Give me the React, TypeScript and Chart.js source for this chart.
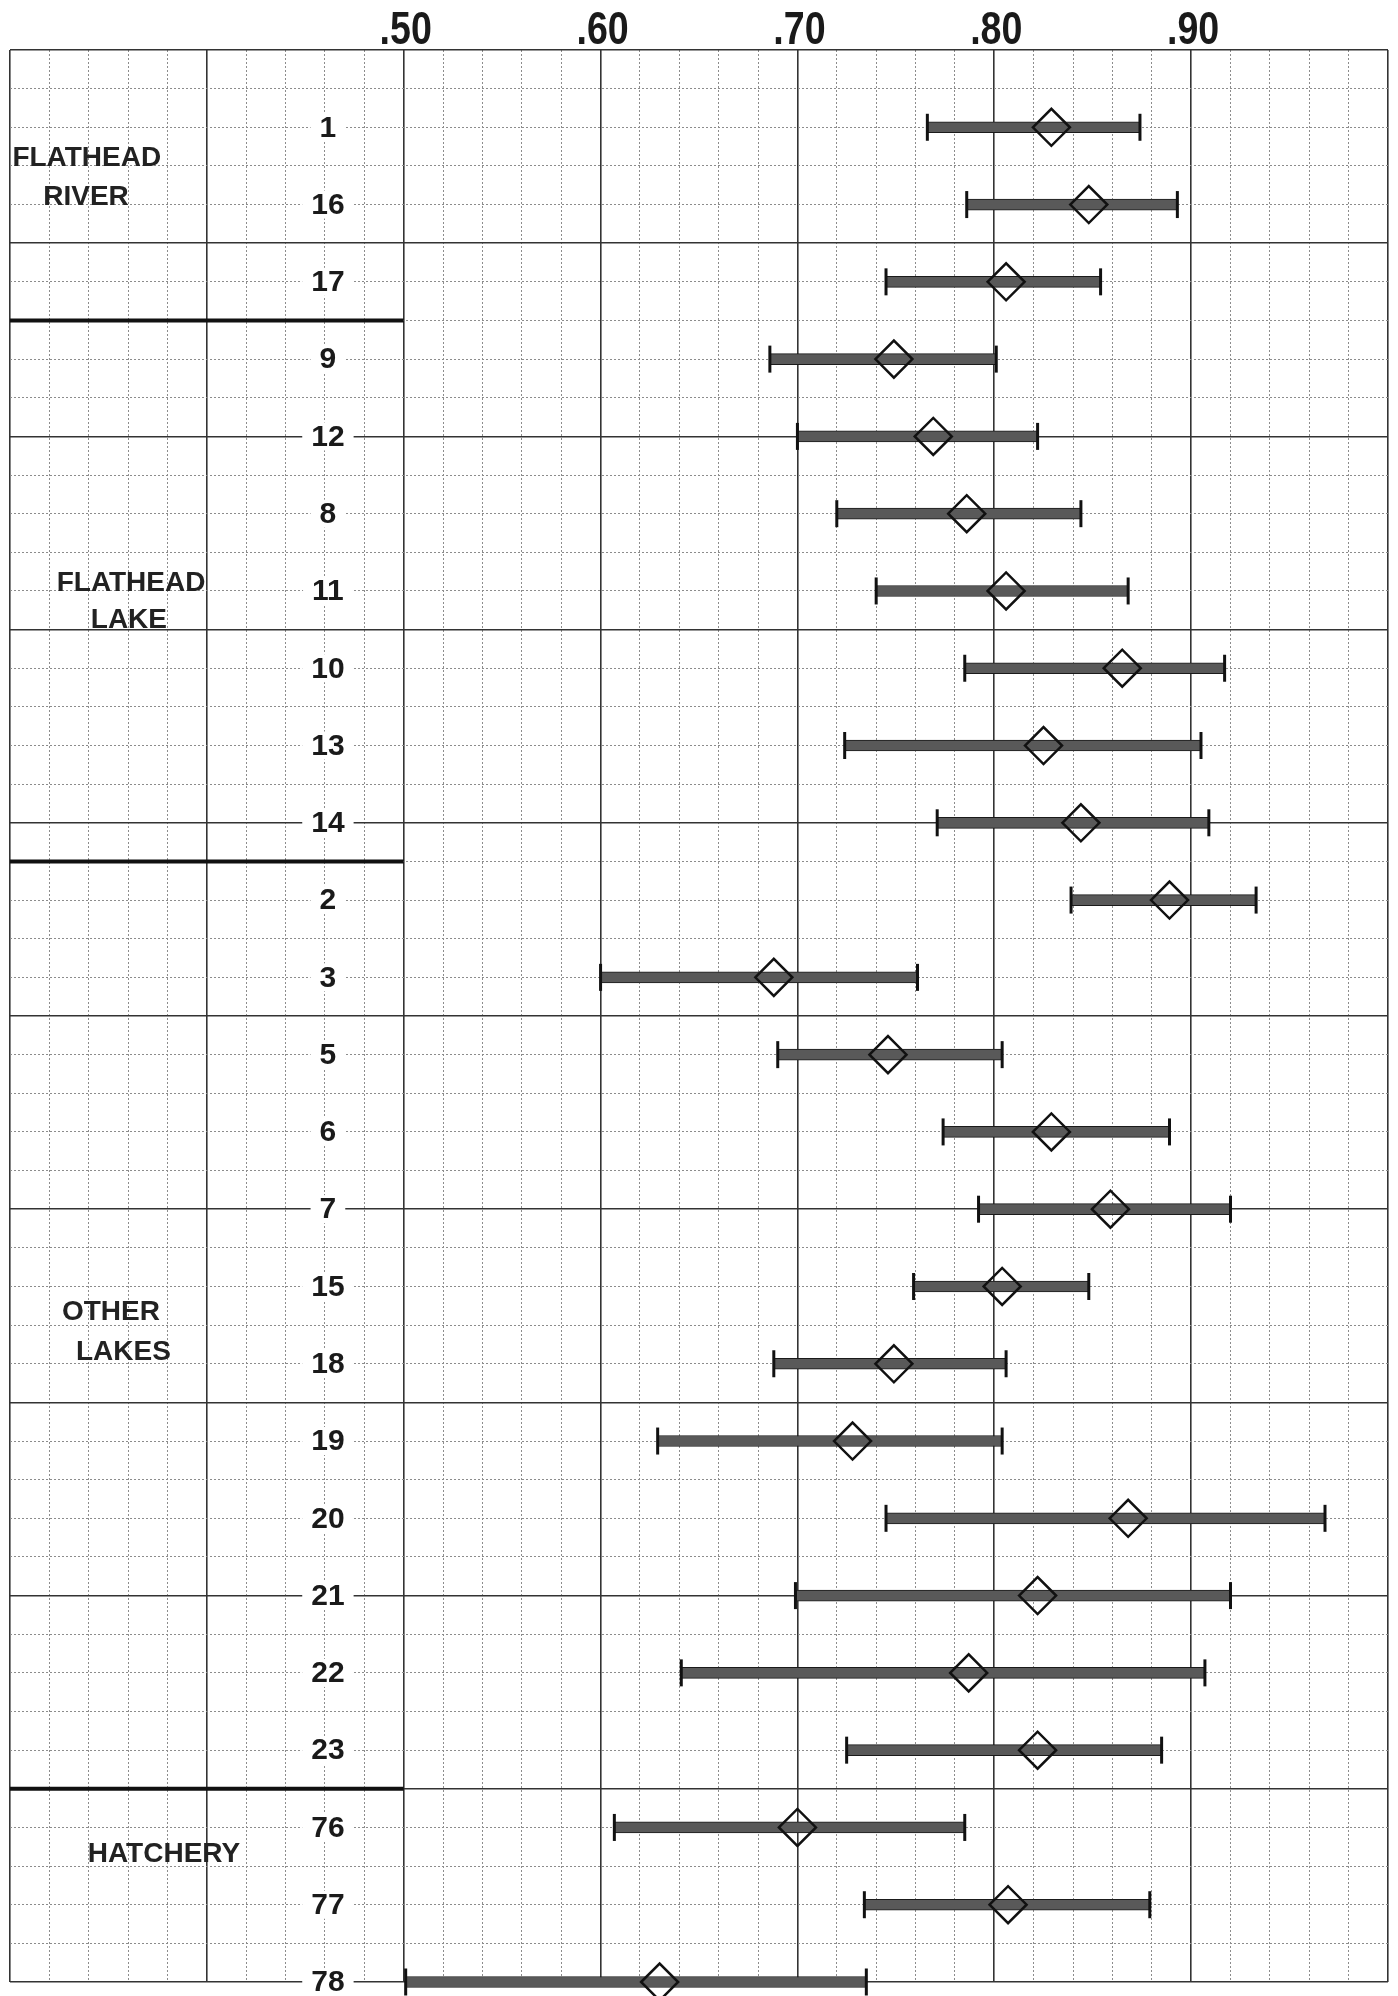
import React, { useEffect, useRef } from 'react';
import { Chart, registerables } from 'chart.js';

Chart.register(...registerables);

// ---- data ----
const rowLabels = ['1', '16', '17', '9', '12', '8', '11', '10', '13', '14', '2', '3', '5', '6', '7', '15', '18', '19', '20', '21', '22', '23', '76', '77', '78'];
const lowValues = [0.766, 0.786, 0.745, 0.686, 0.700, 0.720, 0.740, 0.785, 0.724, 0.771, 0.839, 0.600, 0.690, 0.774, 0.792, 0.759, 0.688, 0.629, 0.745, 0.699, 0.641, 0.725, 0.607, 0.734, 0.501];
const meanValues = [0.829, 0.848, 0.806, 0.749, 0.769, 0.786, 0.806, 0.865, 0.825, 0.844, 0.889, 0.688, 0.746, 0.829, 0.859, 0.804, 0.749, 0.728, 0.868, 0.822, 0.787, 0.822, 0.700, 0.807, 0.630];
const highValues = [0.874, 0.893, 0.854, 0.801, 0.822, 0.844, 0.868, 0.917, 0.905, 0.909, 0.933, 0.761, 0.804, 0.889, 0.920, 0.848, 0.806, 0.804, 0.968, 0.920, 0.907, 0.885, 0.785, 0.879, 0.735];
const tickValues = [0.5, 0.6, 0.7, 0.8, 0.9];
const tickLabels = ['.50', '.60', '.70', '.80', '.90'];
const groupNames = [['FLATHEAD', 'RIVER'], ['FLATHEAD', 'LAKE'], ['OTHER', 'LAKES'], ['HATCHERY']];
const groupFirstRow = [0, 3, 10, 22];

// ---- layout of the left-hand label area (axis units) ----
const groupLabelLayout = [
  [{ x: 0.339, y: 0.4 }, { x: 0.3386, y: 0.91 }],
  [{ x: 0.3615, y: 5.9 }, { x: 0.3604, y: 6.38 }],
  [{ x: 0.3513, y: 15.33 }, { x: 0.3576, y: 15.85 }],
  [{ x: 0.3782, y: 22.35 }],
];
const ROW_LABEL_X = 0.4615;

const tickVal = (c: any) => (c && c.tick ? Number(c.tick.value) : NaN);
const isMajorX = (v: number) => !isNaN(v) && Math.abs(v * 10 - Math.round(v * 10)) < 1e-6;
const isMajorY = (v: number) => {
  if (isNaN(v)) return false;
  const k = (v + 1) / 2.5;
  return Math.abs(k - Math.round(k)) < 1e-6;
};

const labelPlugin = {
  id: 'labelArea',
  beforeDatasetsDraw(chart: any) {
    const { ctx, scales } = chart;
    const xs = scales.x;
    const ys = scales.y;
    ctx.save();
    // group separators
    ctx.strokeStyle = '#111';
    ctx.lineWidth = 4;
    groupFirstRow.slice(1).forEach((r) => {
      const y = ys.getPixelForValue(r - 0.5);
      ctx.beginPath();
      ctx.moveTo(xs.getPixelForValue(0.3), y);
      ctx.lineTo(xs.getPixelForValue(0.5), y);
      ctx.stroke();
    });
    // row labels
    ctx.font = "bold 30px 'Liberation Sans', Arial, sans-serif";
    ctx.textAlign = 'center';
    ctx.textBaseline = 'middle';
    rowLabels.forEach((lab, i) => {
      const x = xs.getPixelForValue(ROW_LABEL_X);
      const y = ys.getPixelForValue(i);
      const w = ctx.measureText(lab).width;
      ctx.fillStyle = '#ffffff';
      ctx.fillRect(x - w / 2 - 9, y - 14, w + 18, 28);
      ctx.fillStyle = '#1a1a1a';
      ctx.fillText(lab, x, y + 1);
    });
    // group labels
    ctx.font = "bold 28px 'Liberation Sans', Arial, sans-serif";
    ctx.fillStyle = '#222';
    groupNames.forEach((lines, g) => {
      lines.forEach((line, j) => {
        const pos = groupLabelLayout[g][j];
        ctx.fillText(line, xs.getPixelForValue(pos.x), ys.getPixelForValue(pos.y));
      });
    });
    // top tick labels (condensed)
    ctx.font = "bold 47px 'Liberation Sans', Arial, sans-serif";
    ctx.fillStyle = '#1a1a1a';
    ctx.textAlign = 'center';
    ctx.textBaseline = 'alphabetic';
    tickValues.forEach((v, i) => {
      ctx.save();
      ctx.translate(xs.getPixelForValue(v) + 2, 44);
      ctx.scale(0.8, 1);
      ctx.fillText(tickLabels[i], 0, 0);
      ctx.restore();
    });
    ctx.restore();
  },
};

export default function App() {
  const canvasRef = useRef<HTMLCanvasElement | null>(null);

  useEffect(() => {
    const canvas = canvasRef.current;
    if (!canvas) return;
    const chart = new Chart(canvas, {
      type: 'bar',
      data: {
        datasets: [
          {
            type: 'scatter',
            label: 'mean',
            xAxisID: 'x',
            yAxisID: 'y',
            data: meanValues.map((v, i) => ({ x: v, y: i })),
            pointStyle: 'rectRot',
            pointRadius: 18.5,
            pointBorderWidth: 2.5,
            pointBorderColor: '#111',
            pointBackgroundColor: 'rgba(0,0,0,0)',
            clip: false,
            order: 0,
          } as any,
          {
            type: 'scatter',
            label: 'low',
            xAxisID: 'x',
            yAxisID: 'y',
            data: lowValues.map((v, i) => ({ x: v, y: i })),
            pointStyle: 'line',
            pointRotation: 90,
            pointRadius: 13.5,
            pointBorderWidth: 3,
            pointBorderColor: '#111',
            clip: false,
            order: 1,
          } as any,
          {
            type: 'scatter',
            label: 'high',
            xAxisID: 'x',
            yAxisID: 'y',
            data: highValues.map((v, i) => ({ x: v, y: i })),
            pointStyle: 'line',
            pointRotation: 90,
            pointRadius: 13.5,
            pointBorderWidth: 3,
            pointBorderColor: '#111',
            clip: false,
            order: 1,
          } as any,
          {
            type: 'bar',
            label: 'range',
            indexAxis: 'y',
            xAxisID: 'x',
            yAxisID: 'y',
            data: lowValues.map((v, i) => ({ x: [v, highValues[i]], y: i })),
            backgroundColor: '#595959',
            borderColor: '#1a1a1a',
            borderWidth: 1,
            borderSkipped: false,
            barThickness: 11,
            clip: false,
            order: 2,
          } as any,
        ],
      },
      options: {
        responsive: false,
        animation: false,
        devicePixelRatio: 1,
        events: [],
        layout: { autoPadding: false, padding: { top: 50, left: 10, right: 10, bottom: 14 } },
        plugins: {
          legend: { display: false },
          tooltip: { enabled: false },
        },
        scales: {
          x: {
            type: 'linear',
            position: 'top',
            offset: false,
            min: 0.3,
            max: 1.0,
            ticks: { display: false, stepSize: 0.02, autoSkip: false },
            grid: {
              offset: false,
              drawTicks: false,
              color: (c: any) => (isMajorX(tickVal(c)) ? '#333333' : '#8c8c8c'),
              lineWidth: (c: any) => (isMajorX(tickVal(c)) ? 1.6 : 1),
            },
            border: {
              display: false,
              dash: (c: any) => (isMajorX(tickVal(c)) ? [] : [2, 2]),
            },
          },
          y: {
            type: 'linear',
            position: 'left',
            offset: false,
            min: -1,
            max: 24,
            reverse: true,
            ticks: { display: false, stepSize: 0.5 },
            grid: {
              offset: false,
              drawTicks: false,
              color: (c: any) => (isMajorY(tickVal(c)) ? '#333333' : '#8c8c8c'),
              lineWidth: (c: any) => (isMajorY(tickVal(c)) ? 1.6 : 1),
            },
            border: {
              display: false,
              dash: (c: any) => (isMajorY(tickVal(c)) ? [] : [2, 2]),
            },
          },
        },
      } as any,
      plugins: [labelPlugin],
    });
    return () => chart.destroy();
  }, []);

  return (
    <div style={{ position: 'absolute', left: 0, top: 0, width: 1398, height: 1996, background: '#ffffff' }}>
      <canvas ref={canvasRef} width={1398} height={1996} style={{ display: 'block', width: 1398, height: 1996 }} />
    </div>
  );
}
